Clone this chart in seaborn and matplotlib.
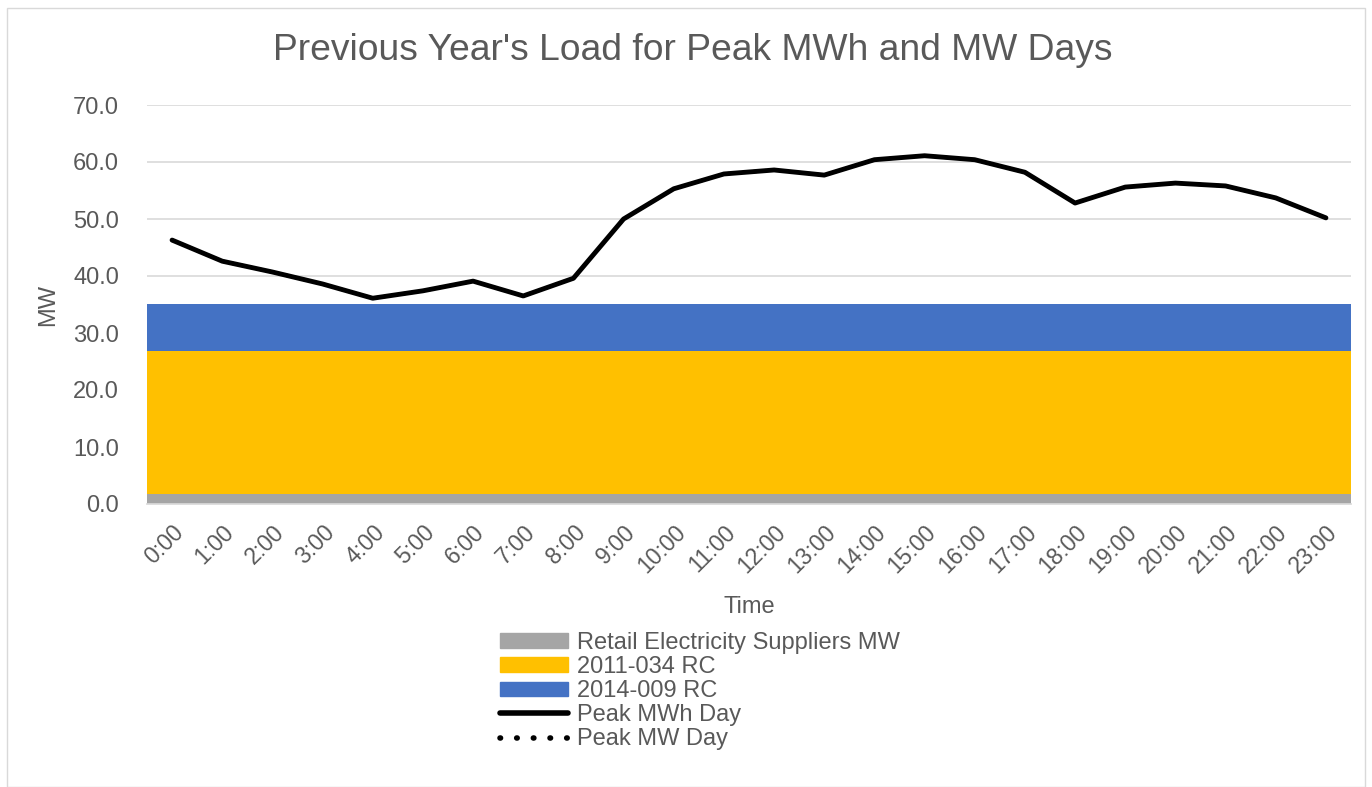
import matplotlib
matplotlib.use("Agg")
import matplotlib.pyplot as plt
import seaborn as sns
import numpy as np
import pandas as pd
from matplotlib.patches import Rectangle
from matplotlib.lines import Line2D
from matplotlib.patches import Patch

hours = [f"{h}:00" for h in range(24)]
retail_mw = [1.8] * 24
rc_2011_034 = [25.0] * 24
rc_2014_009 = [8.3] * 24
peak_mwh_day = [46.3, 42.6, 40.7, 38.6, 36.1, 37.4, 39.1, 36.5, 39.6, 50.0, 55.3, 57.9,
                58.6, 57.7, 60.4, 61.1, 60.4, 58.2, 52.8, 55.6, 56.3, 55.8, 53.7, 50.2]
peak_mw_day = peak_mwh_day
yticks = [0, 10, 20, 30, 40, 50, 60, 70]

sns.set_theme(style="white")
plt.rcParams['font.family'] = ['Liberation Sans', 'DejaVu Sans']

fig = plt.figure(figsize=(13.72, 7.87), dpi=100)
ax = fig.add_axes([147/1372, 1 - 504/787, (1351-147)/1372, (504-105)/787])

x = np.arange(len(hours))
b1 = np.array(retail_mw)
b2 = np.array(rc_2011_034)
b3 = np.array(rc_2014_009)
ax.bar(x, b1, width=1.0, color="#A5A5A5", linewidth=0, zorder=2)
ax.bar(x, b2, width=1.0, bottom=b1, color="#FFC000", linewidth=0, zorder=2)
ax.bar(x, b3, width=1.0, bottom=b1 + b2, color="#4472C4", linewidth=0, zorder=2)

df = pd.DataFrame({"x": x, "mwh": peak_mwh_day, "mw": peak_mw_day})
sns.lineplot(data=df, x="x", y="mw", ax=ax, color="black", linewidth=2.5, linestyle=":", zorder=3)
sns.lineplot(data=df, x="x", y="mwh", ax=ax, color="black", linewidth=3.5, zorder=4)

ax.set_xlim(-0.5, 23.5)
ax.set_ylim(0, 70)
ax.set_yticks(yticks)
ax.set_yticklabels([f"{v:.1f}" for v in yticks], fontsize=17, color="#595959")
ax.set_xticks(x)
ax.set_xticklabels(hours, rotation=45, ha="right", rotation_mode="anchor", fontsize=16.5, color="#595959")
ax.tick_params(axis="y", length=0, pad=20)
ax.tick_params(axis="x", length=0, pad=12)
ax.grid(axis="y", color="#D9D9D9", linewidth=1.2, zorder=0)
ax.set_axisbelow(True)
for s in ["top", "right", "left"]:
    ax.spines[s].set_visible(False)
ax.spines["bottom"].set_color("#D9D9D9")
ax.set_xlabel("Time", fontsize=17, color="#595959", labelpad=13)
ax.set_ylabel("MW", fontsize=17, color="#595959", labelpad=10)
fig.text(693/1372, 1 - 50/787, "Previous Year's Load for Peak MWh and MW Days", ha="center", va="center",
         fontsize=26.8, color="#595959")

handles = [
    Patch(color="#A5A5A5", label="Retail Electricity Suppliers MW"),
    Patch(color="#FFC000", label="2011-034 RC"),
    Patch(color="#4472C4", label="2014-009 RC"),
    Line2D([], [], color="black", linewidth=4, solid_capstyle="round", label="Peak MWh Day"),
    Line2D([], [], color="black", linewidth=4, linestyle=(0, (0.1, 2.9)), dash_capstyle="round",
           label="Peak MW Day"),
]
leg = fig.legend(handles=handles, loc="upper left", bbox_to_anchor=(488/1372, 1 - 620/787),
                 frameon=False, fontsize=17, labelcolor="#595959", handlelength=2.9,
                 handleheight=0.55, labelspacing=0.09, handletextpad=0.35, borderpad=0)

fig.patches.append(Rectangle((7/1372, 0), 1 - 14/1372, 1 - 8/787, transform=fig.transFigure,
                             fill=False, edgecolor="#D9D9D9", linewidth=1))

fig.savefig("out.png", dpi=100)
